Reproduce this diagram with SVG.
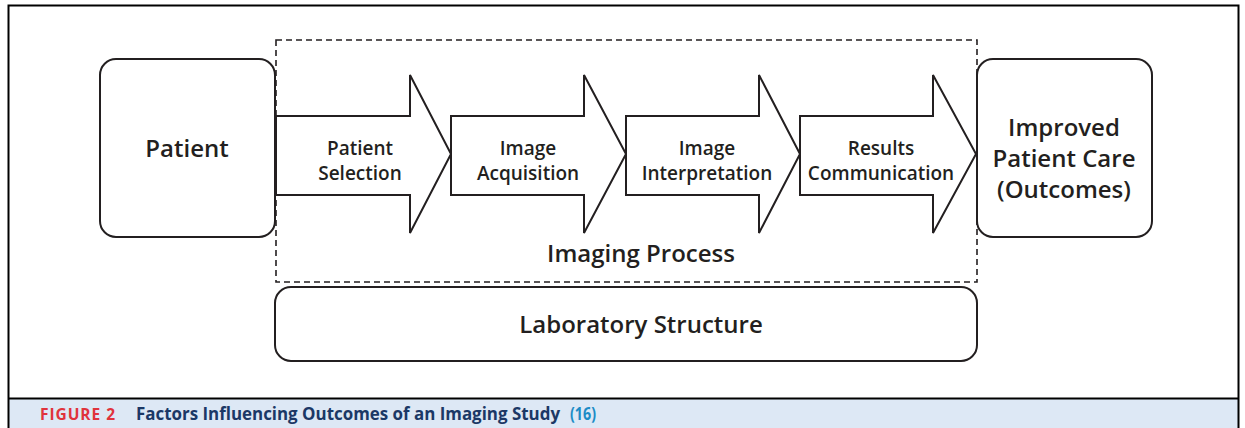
<svg xmlns="http://www.w3.org/2000/svg" width="1245" height="428" viewBox="0 0 1245 428">
<style>
.box{fill:#fff;stroke:#231f20;stroke-width:2}
.arrow{fill:#fff;stroke:#231f20;stroke-width:2;stroke-linejoin:miter}
.dash{fill:none;stroke:#231f20;stroke-width:1.6;stroke-dasharray:6 4}
.t{font-family:"Open Sans","Noto Sans",sans-serif;font-weight:600;fill:#231f20;text-anchor:middle}
.big{font-size:24px}
.small{font-size:19px}
.cap{font-family:"Open Sans","Liberation Sans",sans-serif;font-weight:bold}
</style>
<rect x="0" y="0" width="1245" height="428" fill="#fff"/>
<rect x="9" y="399" width="1229" height="40" fill="#dde8f5"/>
<rect x="8.5" y="5.5" width="1230" height="440" fill="none" stroke="#000" stroke-width="2"/>
<line x1="8.5" y1="398.5" x2="1238.5" y2="398.5" stroke="#000" stroke-width="2"/>

<g id="imaging-process">
<rect class="dash" x="276" y="40" width="701" height="242"/>
<text class="t big" x="641" y="262">Imaging Process</text>
</g>

<g id="patient">
<rect class="box" x="100" y="59" width="175" height="178" rx="16"/>
<text class="t big" x="187" y="157">Patient</text>
</g>

<g id="outcomes">
<rect class="box" x="977" y="59" width="175" height="178" rx="16"/>
<text class="t big" x="1064" y="136">Improved</text>
<text class="t big" x="1064" y="167">Patient Care</text>
<text class="t big" x="1064" y="198">(Outcomes)</text>
</g>

<g id="lab">
<rect class="box" x="275" y="287" width="702" height="74" rx="16"/>
<text class="t big" x="641" y="333">Laboratory Structure</text>
</g>

<g id="connectors">
<g id="step-selection">
<polygon class="arrow" points="276,116 410,116 410,75 451,154 410,233 410,195 276,195"/>
<text class="t small" x="360" y="155">Patient</text>
<text class="t small" x="360" y="180">Selection</text>
</g>
<g id="step-acquisition">
<polygon class="arrow" points="451,116 584,116 584,75 626,154 584,233 584,195 451,195"/>
<text class="t small" x="528" y="155">Image</text>
<text class="t small" x="528" y="180">Acquisition</text>
</g>
<g id="step-interpretation">
<polygon class="arrow" points="626,116 759,116 759,75 800,154 759,233 759,195 626,195"/>
<text class="t small" x="707" y="155">Image</text>
<text class="t small" x="707" y="180">Interpretation</text>
</g>
<g id="step-communication">
<polygon class="arrow" points="800,116 933,116 933,75 976,154 933,233 933,195 800,195"/>
<text class="t small" x="881" y="155">Results</text>
<text class="t small" x="881" y="180">Communication</text>
</g>
</g>

<g id="caption">
<text x="40" y="420" class="cap" font-size="15.5" fill="#e0333c" textLength="75" lengthAdjust="spacing">FIGURE 2</text>
<text x="136" y="420" class="cap" font-size="17" fill="#1b3866" textLength="424" lengthAdjust="spacingAndGlyphs">Factors Influencing Outcomes of an Imaging Study</text>
<text x="570" y="420" class="cap" font-size="17" fill="#1c8cc6" textLength="26" lengthAdjust="spacingAndGlyphs">(16)</text>
</g>
</svg>
